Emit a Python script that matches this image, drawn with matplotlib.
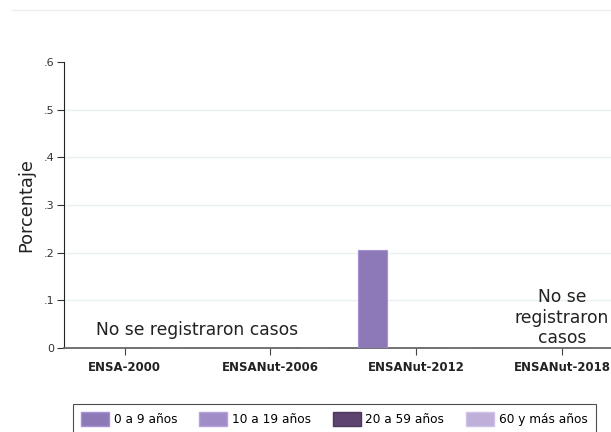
import numpy as np
import matplotlib.pyplot as plt
from matplotlib.patches import Patch
from matplotlib.lines import Line2D

plt.rcParams['font.family'] = ['DejaVu Sans']

surveys = ["ENSA-2000", "ENSANut-2006", "ENSANut-2012", "ENSANut-2018"]
groups = ["0 a 9 años", "10 a 19 años", "20 a 59 años", "60 y más años"]
# porcentaje por encuesta (filas) y grupo de edad (columnas); NaN = sin casos
values = np.array([
    [np.nan, np.nan, np.nan, np.nan],
    [np.nan, np.nan, np.nan, np.nan],
    [0.206, np.nan, np.nan, np.nan],
    [np.nan, np.nan, np.nan, np.nan],
])
colors = ["#8e79b8", "#a08cc6", "#5e4470", "#bfb0da"]
edges = ["#a58fd6", "#b7a3dc", "#4e3860", "#cfc2e6"]

fig = plt.figure(figsize=(6.11, 4.32), dpi=100)
ax = fig.add_axes([0.1047, 0.1944, 0.8953, 0.6621])

x = np.arange(1, len(surveys) + 1)
w = 0.205
offsets = np.array([-1.5, -0.5, 0.5, 1.5]) * 0.2
for j in range(len(groups)):
    v = np.nan_to_num(values[:, j])
    ax.bar(x + offsets[j], v, width=w, color=colors[j], edgecolor=edges[j],
           linewidth=0.8, zorder=3)

ax.set_xlim(0.584, 4.336)
ax.set_ylim(0, 0.6)
yt = [0, 0.1, 0.2, 0.3, 0.4, 0.5, 0.6]
ax.set_yticks(yt)
ax.set_yticklabels(["0", ".1", ".2", ".3", ".4", ".5", ".6"], fontsize=8,
                   color="#333333")
ax.set_xticks(x)
ax.set_xticklabels(surveys, fontsize=8.5, fontweight="bold", color="#222222")
for y in yt[1:-1]:
    ax.axhline(y, color="#e9f1f3", linewidth=1.0, zorder=1)

ax.spines["top"].set_visible(False)
ax.spines["right"].set_visible(False)
ax.spines["left"].set_color("#222222")
ax.spines["bottom"].set_color("#666666")
ax.spines["bottom"].set_linewidth(1.3)
ax.tick_params(axis="y", length=5, color="#333333", pad=2)
ax.tick_params(axis="x", length=5, color="#444444", pad=4)
ax.set_ylabel("Porcentaje", fontsize=12.8, color="#222222", labelpad=6)

# notas de "sin casos"
ax.text((x[0] + x[1]) / 2, 0.038, "No se registraron casos", ha="center",
        va="center", fontsize=12.3, color="#222222")
ax.text(x[3], 0.064, "No se\nregistraron\ncasos", ha="center", va="center",
        fontsize=12.3, color="#222222", linespacing=1.15)

# linea superior del area del grafico
fig.add_artist(Line2D([0.02, 1.0], [0.976, 0.976], color="#eeeeee",
                      linewidth=1.0))

handles = [Patch(facecolor=c, edgecolor=e, label=g)
           for c, e, g in zip(colors, edges, groups)]
leg = fig.legend(handles=handles, loc="upper left", ncol=4,
                 bbox_to_anchor=(0.1195, 0.0648), frameon=True, fontsize=8.7,
                 handlelength=2.3, handleheight=1.35, columnspacing=1.8,
                 handletextpad=0.4, borderpad=0.7, borderaxespad=0,
                 fancybox=False)
leg.get_frame().set_edgecolor("#222222")
leg.get_frame().set_linewidth(0.8)

fig.savefig("out.png", dpi=100)
